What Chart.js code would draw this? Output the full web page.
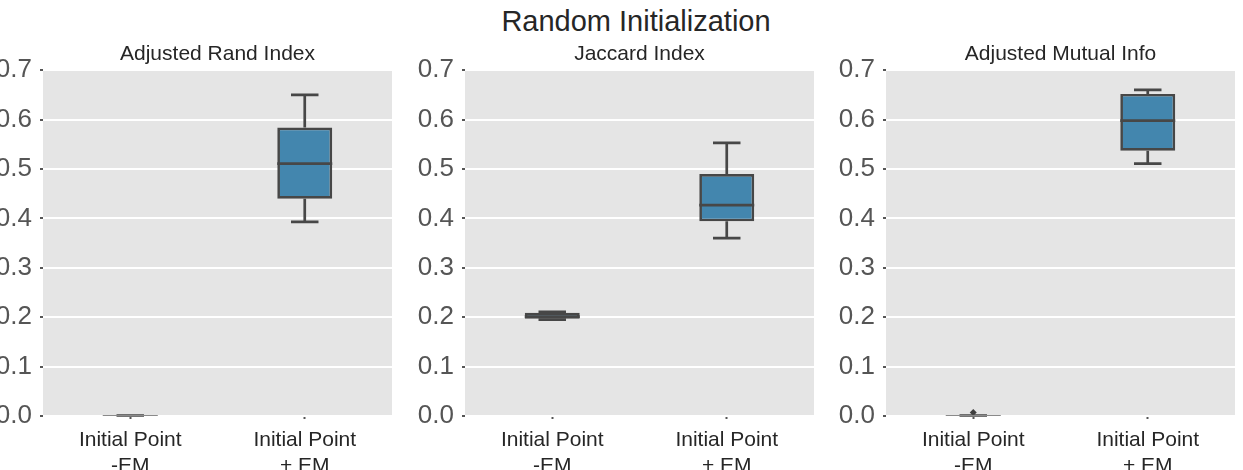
<!DOCTYPE html>
<html>
<head>
<meta charset="utf-8">
<script src="https://cdn.jsdelivr.net/npm/chart.js@4/dist/chart.umd.min.js"></script>
<style>
  html, body { margin: 0; padding: 0; background: #fff; overflow: hidden; }
  body { width: 1243px; height: 470px; position: relative; }
  .main-title {
    position: absolute; left: 436px; top: 5px; width: 400px;
    text-align: center; font: 29px "Liberation Sans", Arial, sans-serif; color: #262626;
  }
  .panel { position: absolute; top: 0; width: 469px; height: 470px; }
</style>
</head>
<body>
<div class="main-title">Random Initialization</div>
<div class="panel" style="left:-17px"><canvas id="ari"></canvas></div>
<div class="panel" style="left:405px"><canvas id="jaccard"></canvas></div>
<div class="panel" style="left:826px"><canvas id="ami"></canvas></div>

<script>
// categories and tick values
const categories = [['Initial Point', '-EM'], ['Initial Point', '+ EM']];
const yMin = 0.0;
const yMax = 0.7;
const yStep = 0.1;

// Adjusted Rand Index
const ariLow = [0.000, 0.393];
const ariQ1 = [0.0005, 0.440];
const ariMedian = [0.001, 0.511];
const ariQ3 = [0.0015, 0.584];
const ariHigh = [0.002, 0.650];
const ariFliers = [null, null];

// Jaccard Index
const jacLow = [0.195, 0.360];
const jacQ1 = [0.197, 0.394];
const jacMedian = [0.201, 0.427];
const jacQ3 = [0.209, 0.490];
const jacHigh = [0.211, 0.553];
const jacFliers = [null, null];

// Adjusted Mutual Info
const amiLow = [0.000, 0.511];
const amiQ1 = [0.0005, 0.537];
const amiMedian = [0.001, 0.598];
const amiQ3 = [0.0015, 0.652];
const amiHigh = [0.002, 0.660];
const amiFliers = [0.007, null];

const FONT = '"Liberation Sans", Arial, sans-serif';
const BOX_FILL = '#4386ae';
const LINE = '#474747';

Chart.defaults.font.family = FONT;
Chart.defaults.animation = false;

// background + whiskers/median drawn through the y scale
const boxPlugin = {
    id: 'boxWhiskers',
    beforeDraw(chart) {
        const a = chart.chartArea;
        const ctx = chart.ctx;
        ctx.save();
        ctx.fillStyle = '#e5e5e5';
        ctx.fillRect(a.left, a.top, a.right - a.left, a.bottom - a.top);
        ctx.restore();
    },
    afterDatasetsDraw(chart, args, opts) {
        const ctx = chart.ctx;
        const y = chart.scales.y;
        const meta = chart.getDatasetMeta(0);
        ctx.save();
        ctx.strokeStyle = LINE;
        ctx.lineWidth = 2.7;
        meta.data.forEach((bar, i) => {
            const half = bar.width / 2;
            const yLow = y.getPixelForValue(opts.low[i]);
            const yQ1 = y.getPixelForValue(opts.q1[i]);
            const yMed = y.getPixelForValue(opts.median[i]);
            const yQ3 = y.getPixelForValue(opts.q3[i]);
            const yHigh = y.getPixelForValue(opts.high[i]);
            // near-flat boxes show as a thin light edge with darker caps
            const flat = (yLow - yHigh) < 3;
            ctx.beginPath();
            ctx.moveTo(bar.x, yQ3); ctx.lineTo(bar.x, yHigh);
            ctx.moveTo(bar.x, yQ1); ctx.lineTo(bar.x, yLow);
            ctx.moveTo(bar.x - half / 2, yHigh); ctx.lineTo(bar.x + half / 2, yHigh);
            ctx.moveTo(bar.x - half / 2, yLow); ctx.lineTo(bar.x + half / 2, yLow);
            ctx.lineWidth = flat ? 1.5 : 2.7;
            ctx.stroke();
            ctx.beginPath();
            ctx.strokeStyle = flat ? '#8a8a8a' : LINE;
            ctx.lineWidth = flat ? 1.2 : 2.7;
            ctx.moveTo(bar.x - half, yMed); ctx.lineTo(bar.x + half, yMed);
            ctx.stroke();
            ctx.strokeStyle = LINE;
        });
        ctx.restore();
    }
};

function makeBoxChart(id, title, low, q1, median, q3, high, fliers) {
    new Chart(document.getElementById(id), {
        type: 'bar',
        data: {
            labels: categories,
            datasets: [{
                data: q1.map((v, i) => [v, q3[i]]),
                backgroundColor: BOX_FILL,
                borderColor: LINE,
                borderWidth: 2.7,
                borderSkipped: false,
                barPercentage: 0.315,
                categoryPercentage: 1.0
            }, {
                type: 'line',
                data: fliers,
                showLine: false,
                pointStyle: 'rectRot',
                pointRadius: 3.5,
                pointBackgroundColor: '#3f3f3f',
                pointBorderColor: '#3f3f3f',
                pointBorderWidth: 0
            }]
        },
        options: {
            responsive: true,
            maintainAspectRatio: false,
            layout: { padding: 0 },
            plugins: {
                legend: { display: false },
                tooltip: { enabled: false },
                title: {
                    display: true,
                    text: title,
                    color: '#262626',
                    font: { size: 21, weight: 'normal' },
                    padding: { top: 42, bottom: 3 }
                },
                boxWhiskers: { low: low, q1: q1, median: median, q3: q3, high: high }
            },
            scales: {
                x: {
                    border: { display: false },
                    grid: {
                        offset: false,
                        drawOnChartArea: false,
                        tickLength: 3,
                        tickWidth: 2,
                        tickColor: '#555555'
                    },
                    ticks: {
                        color: '#262626',
                        padding: 8,
                        font: { size: 21, lineHeight: 1.25 },
                        maxRotation: 0,
                        autoSkip: false
                    },
                    afterFit: (scale) => { scale.height = 54; }
                },
                y: {
                    min: yMin,
                    max: yMax,
                    border: { display: false },
                    grid: {
                        color: '#ffffff',
                        lineWidth: 2,
                        tickLength: 3,
                        tickWidth: 2,
                        tickColor: '#555555'
                    },
                    ticks: {
                        stepSize: yStep,
                        color: '#555555',
                        padding: 8,
                        font: { size: 26 },
                        callback: (v) => v.toFixed(1)
                    },
                    afterFit: (scale) => { scale.width = 60; }
                },
                // empty right axis so the panel title centres over the plot
                yPad: {
                    position: 'right',
                    min: yMin,
                    max: yMax,
                    border: { display: false },
                    grid: { display: false },
                    ticks: { display: false },
                    afterFit: (scale) => { scale.width = 60; }
                }
            }
        },
        plugins: [boxPlugin]
    });
}

makeBoxChart('ari', 'Adjusted Rand Index', ariLow, ariQ1, ariMedian, ariQ3, ariHigh, ariFliers);
makeBoxChart('jaccard', 'Jaccard Index', jacLow, jacQ1, jacMedian, jacQ3, jacHigh, jacFliers);
makeBoxChart('ami', 'Adjusted Mutual Info', amiLow, amiQ1, amiMedian, amiQ3, amiHigh, amiFliers);
</script>
</body>
</html>
